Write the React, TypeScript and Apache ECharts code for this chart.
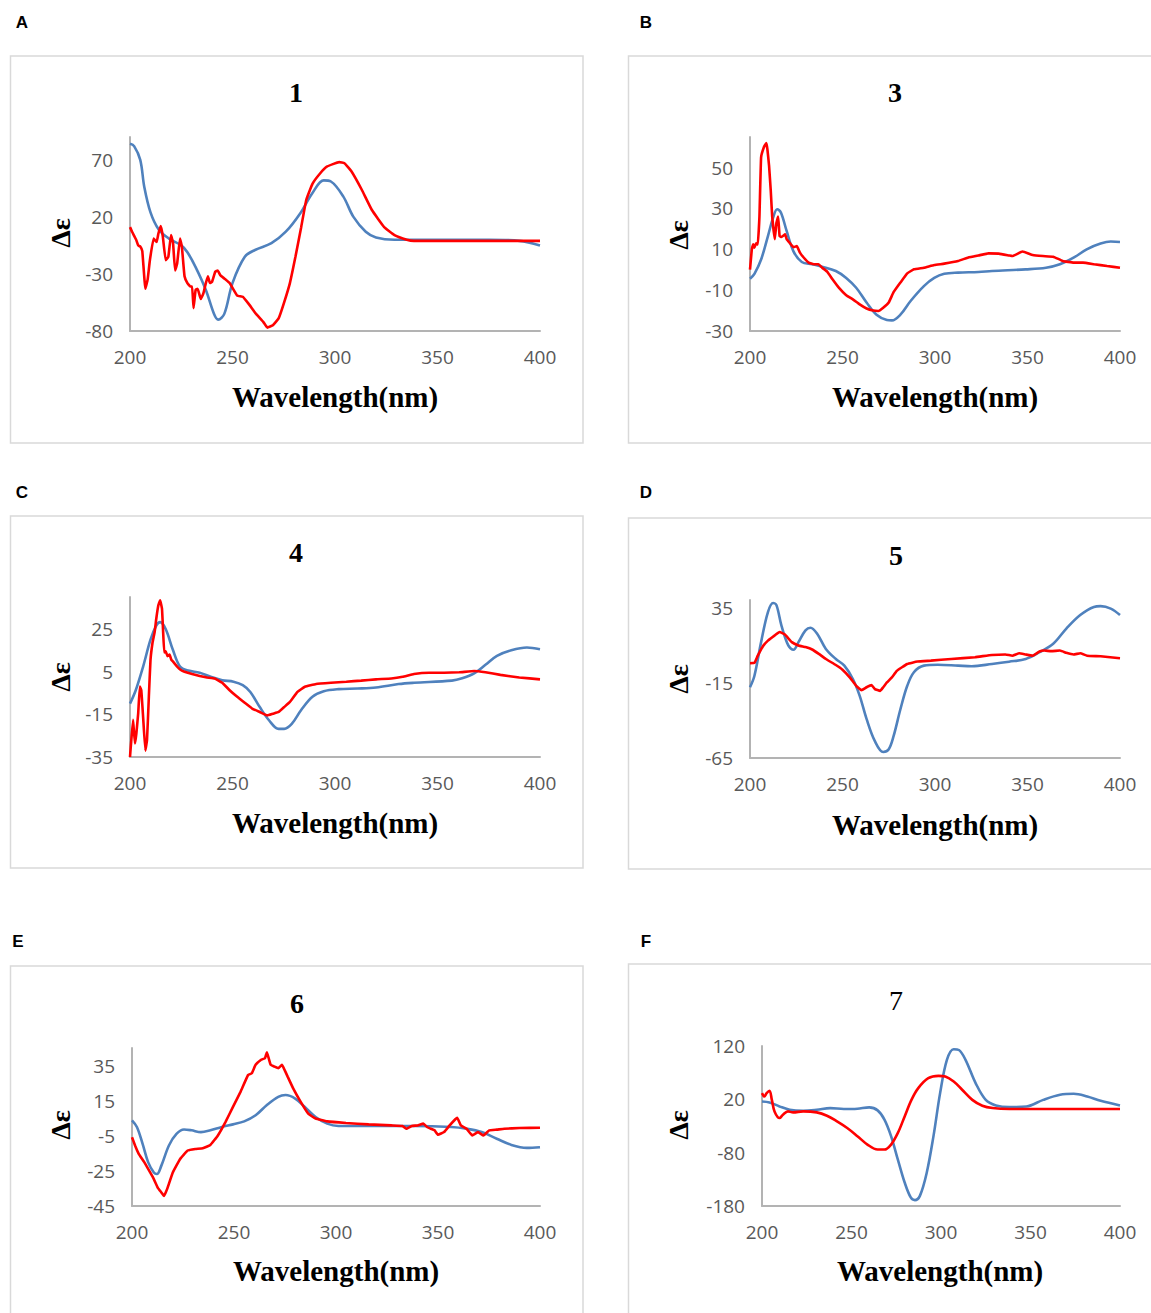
import React, { useEffect, useRef } from "react";
import * as echarts from "echarts";

type Pt = [number, number];

// ---------- data (wavelength nm, Δε) ----------
const calc1: Pt[] = [[200,84],[202,82],[205,70],[207,46],[210,24],[214,9],[219,1],[225,-5],[228,-11],[232,-24],[237,-44],[241,-65],[243,-70],[246,-65],[250,-38],[256,-15],[261,-9],[269,-3],[276,7],[283,23],[289,41],[294.5,52],[298,51],[304,38],[309,20],[315,7],[320,2],[329,0],[338,0],[375,0],[390,-1],[400,-5]];
const expt1: Pt[] = [[200,11],[201,7],[203,0],[204,-5],[205,-6],[206,-10],[207.5,-43],[208.6,-35],[209.7,-18],[211.5,1],[213,-2],[213.8,5],[215,12],[216,3],[217.4,-18],[218.7,-15],[220,4],[221,-3],[222,-27],[223,-21],[224.4,1],[225.3,-6],[226.6,-32],[228,-38],[229.4,-41],[230.3,-41],[231,-60],[232,-44],[233,-43],[234.5,-52],[235.8,-47],[237,-38],[238,-32],[239,-38],[240,-37],[241.6,-28],[242.8,-27],[244,-31],[246,-34],[248.6,-38],[252.3,-49],[255,-50],[257.8,-56],[261.5,-65],[265,-72],[267,-77],[269.7,-75],[272.5,-69],[275,-56],[278,-38],[280.7,-15],[283.5,11],[286,35],[289,49],[292.7,58],[296,64],[302,68],[304.6,67],[308,60],[313,44],[318,26],[324,11],[329,4],[335,0],[338.5,-1],[400,-1]];

const calc3: Pt[] = [[200,-4.4],[202.4,-2],[206,5],[209.7,16.5],[212.5,25.5],[214.7,29.6],[216.7,28],[219.8,19],[223.5,9],[228,3.8],[233.6,2.7],[239,1.5],[246.4,-0.6],[252,-4],[257.4,-8.8],[263,-16],[268.4,-22],[274,-24.6],[276.7,-24.8],[281.3,-22],[286.8,-15.3],[294,-8],[299.6,-4],[305,-2],[312.5,-1.4],[323.5,-1.1],[330.8,-0.6],[349,0.2],[360,1],[367.5,2.7],[374.9,5.9],[382,10],[389.5,12.8],[395,13.8],[400,13.6]];
const expt3: Pt[] = [[200,0],[201,10],[201.7,12.4],[202.4,10.8],[203.3,13],[204.2,12.4],[205.1,26],[206,55],[207.5,60],[208.8,62],[209.4,59],[210.3,51],[211.2,39],[212,26],[213.4,15],[214.3,23],[215.2,26],[216,16.5],[217,16],[219,17.3],[219.8,15],[221.6,13],[223.5,11],[225.3,11.6],[227,8.4],[229,6],[231.7,3.5],[234.5,2.7],[237,2.7],[239,1],[241.8,-1],[244.6,-4.7],[248,-8.8],[252,-12.5],[255.6,-14.5],[259.3,-17],[263,-19],[266.6,-20],[269.4,-20.2],[272,-18.6],[275,-16],[277.6,-11],[281.3,-6.3],[285,-1.8],[288.6,0.2],[294,1],[299.6,2.3],[305,3],[312.5,4.3],[318,6],[323.5,7],[329,8],[334.5,7.9],[340,7],[341.8,6.7],[347.3,8.9],[352.8,7.2],[358.3,6.7],[363.9,6.4],[369,4.3],[375,3.5],[380,3.5],[386,2.7],[393,1.8],[400,1]];

const calc4: Pt[] = [[200,-10],[202.8,-3.7],[206.4,7.4],[210,20],[212.8,26.6],[214.7,28.2],[217.4,25],[221,15],[224.4,7.4],[228.4,5.5],[234,4.5],[239.4,2.6],[245,1],[250.5,0.3],[255,-1.3],[258.7,-4.5],[263.3,-11.6],[267.9,-17.9],[272.5,-21.8],[275.2,-21.8],[278.9,-19.5],[283.5,-13],[289,-6.8],[294.5,-4.2],[301.8,-3.2],[311,-2.9],[320,-2.4],[331,-0.8],[338.5,-0.2],[357,0.8],[362,1.9],[367.9,4.2],[373.4,8.2],[379,12.4],[386,15],[393.6,16.3],[400,15.5]];
const expt4: Pt[] = [[200,-35],[200.5,-28.7],[201.5,-17.6],[202.4,-28.7],[203.1,-24],[204,-14.5],[204.8,-2],[205.5,-3.7],[206.4,-16.3],[207.5,-32],[208.3,-27],[209.2,-6.7],[210,10.5],[211,18.7],[212,23.4],[212.8,29.7],[213.8,36],[214.7,38.4],[215.6,34.5],[216.1,25],[216.7,14],[217.4,14.6],[218.3,12.3],[219.3,13],[220.2,10.5],[221,9.7],[223,7.4],[224.8,5.8],[226.6,5],[230.3,3.9],[234,3],[237.6,2.3],[241.3,1.8],[245,-0.2],[248.6,-3.7],[252.3,-6.8],[256,-9.6],[259.6,-12.3],[263.3,-13.9],[267,-15.5],[269.7,-14.7],[272.5,-13.9],[275.2,-11.6],[278,-9.2],[281.7,-4.5],[285.3,-2.1],[290.8,-0.8],[298,-0.2],[305.5,0.3],[312.8,0.8],[320,1.4],[327.5,1.8],[333,2.6],[338.5,3.9],[345.9,4.5],[353.2,4.5],[360.6,4.7],[367.9,5.3],[373.4,4.7],[380.7,3.5],[389.9,2.3],[400,1.4]];

const calc5: Pt[] = [[200,-18],[202.4,-10.3],[206,12],[209.7,32],[212.5,38],[214.3,36.6],[217,23],[220.7,9.8],[223.5,6.9],[226.2,12],[230,19.8],[232.7,21.6],[236.3,17.6],[241,7.5],[246.4,0.8],[251,-3.6],[255.6,-12.5],[259.3,-23.7],[263,-39],[267.5,-53.8],[272,-61],[274.9,-59.4],[277.6,-50.5],[281.3,-32.6],[285,-17],[288.6,-8],[294,-3.6],[301.5,-3],[312.5,-3.6],[319.8,-4],[330.8,-2.5],[340,-1],[349,0.8],[356.5,5.3],[363.9,10.9],[371,21],[378.5,30],[385.9,35.4],[389.5,35.9],[395,34.3],[400,30]];
const expt5: Pt[] = [[200,-2],[202.4,-1.8],[204.2,3],[207,9.3],[209.7,13],[213.4,16.5],[216,18.7],[218.9,17],[222.6,12],[226.2,9.8],[230,8.7],[233.6,7.1],[237.2,4.2],[241,0.8],[246.4,-3.2],[250,-6.3],[253.9,-11.4],[257.4,-17],[260.3,-19.9],[263,-18],[265.7,-16.6],[267.5,-19.2],[270.3,-20.4],[272,-18],[274,-14.8],[276.7,-11.4],[279.4,-7],[285,-2.5],[290.5,-0.9],[297.8,-0.3],[308.8,0.8],[321.6,2],[330.8,3.5],[338,3.8],[341.8,3],[345.5,4.6],[349,3.8],[352.8,3],[356.5,5.8],[359,6.4],[362.8,6],[367.5,6.4],[371,4.9],[374.9,3.8],[378.5,4.6],[382.2,3],[389.5,2.6],[400,1.3]];

const calc6: Pt[] = [[200,3.8],[202.4,0],[205.2,-9.6],[207.9,-20],[210.7,-25.9],[212.2,-26.8],[214.4,-22],[218.1,-10.5],[221.8,-3.9],[225.5,-1.4],[229.2,-1.9],[233.8,-2.9],[238.4,-1.9],[244,0],[249.5,1.5],[255,3.2],[260.6,6.7],[266,12.4],[271.7,17.2],[275.3,18.2],[280,16.2],[284.6,11.5],[290,5.7],[295.7,1.9],[301.2,0.6],[310.4,0.6],[319.7,0.6],[338,0.6],[356.6,0],[364,-1],[371.4,-2.9],[378.8,-6.7],[386,-10.2],[393.5,-11.9],[400,-11.5]];
const expt6: Pt[] = [[200,-5.8],[201.5,-10.5],[203.3,-15.3],[206,-20],[208.9,-25.9],[210.7,-29.7],[212.6,-34.5],[214.4,-37.3],[215.7,-39.3],[217.2,-35.4],[220,-25.9],[223.6,-18.2],[227.3,-13.4],[231,-12.5],[234.7,-12.1],[238.4,-10.2],[242.1,-4.8],[245.8,2.8],[249.5,11.5],[253.2,20],[256.9,29.6],[258.7,30.6],[260.6,35.4],[263.3,38.3],[265.2,39.2],[266.1,42.5],[267,39.2],[268,35.4],[269.8,34.4],[271.7,33.5],[273.5,35.4],[274.4,33.5],[276.3,28.7],[279,22],[282.7,14.3],[286.4,7.6],[290,4.8],[295.7,3.2],[304.9,2.3],[316,1.5],[327,0.9],[332.6,0.6],[334.4,-1],[337.2,0.6],[340,0.9],[342.8,1.9],[344.6,0],[346.5,-1],[348.3,-1.9],[350,-4.4],[353,-2.9],[355.7,0.9],[358.5,4.4],[359.4,5.3],[361.2,0.9],[364,-1],[366.8,-4.8],[369.6,-2.9],[372.3,-4.8],[375.1,-1.9],[378.8,-1.5],[382.5,-1],[389.9,-0.6],[400,-0.4]];

const calc7: Pt[] = [[200,16],[204.2,14.2],[209.8,6.7],[215.5,0.5],[223,-1.3],[230.6,0.5],[238.1,3.6],[245.7,1.8],[253.3,2.4],[259.9,4.9],[264.6,-0.7],[268.4,-18],[272.1,-49],[275.9,-93],[279.7,-136],[283.1,-164],[285.4,-169],[288.2,-161],[292,-118],[295.8,-49],[299.5,31.6],[303.3,94],[307.1,114],[310,112.5],[313.7,94],[319.4,50],[325,19],[330.7,8.6],[338.2,5.5],[347.7,6.7],[357.1,19],[366.5,28.5],[374.1,30.4],[381.7,25.4],[389.2,17.3],[400,8.6]];
const expt7: Pt[] = [[200,31.6],[201.3,25.4],[202.6,31.6],[204.2,36],[205.5,19],[207,-2.6],[209.8,-15],[211.7,-8.8],[214.5,-2.6],[217.4,-4.5],[223,-2.6],[230.6,-4.5],[236.3,-10.7],[241.9,-21.3],[247.6,-33.7],[253.3,-49],[258.9,-64.8],[264.6,-74.2],[268.4,-74.2],[272.1,-64.8],[275.9,-43],[279.7,-12],[283.5,19],[287.3,41],[292.9,59.6],[298.6,64],[302.4,62.7],[307.1,53.4],[311.8,38],[317.5,19],[323.1,8],[328.8,3.6],[338.2,1.8],[400,1.8]];

const xTicks = [200, 250, 300, 350, 400];
const yTicks1 = [-80, -30, 20, 70];
const yTicks3 = [-30, -10, 10, 30, 50];
const yTicks4 = [-35, -15, 5, 25];
const yTicks5 = [-65, -15, 35];
const yTicks6 = [-45, -25, -5, 15, 35];
const yTicks7 = [-180, -80, 20, 120];
const yMax = [90, 65, 40, 40, 45, 120];
const titles = ["1", "3", "4", "5", "6", "7"];
const letters = ["A", "B", "C", "D", "E", "F"];

// ---------- layout ----------
const LAYOUT = [
  { grid: [130, 137, 410, 194], frame: [10.5, 56, 572.5, 387], letter: [22, 22], title: [296, 92], yName: [60, 233], xName: [335, 397] },
  { grid: [750, 137, 370, 194], frame: [628.5, 56, 600, 387], letter: [646, 22], title: [895, 92], yName: [678, 235], xName: [935, 397] },
  { grid: [130, 597, 410, 160], frame: [10.5, 516, 572.5, 352], letter: [22, 492], title: [296, 552], yName: [60, 677], xName: [335, 823] },
  { grid: [750, 600, 370, 158], frame: [628.5, 518, 600, 351], letter: [646, 492], title: [896, 555], yName: [678, 679], xName: [935, 825] },
  { grid: [132, 1048, 408, 158], frame: [10.5, 966, 572.5, 400], letter: [18, 941], title: [297, 1003], yName: [60, 1125], xName: [336, 1271] },
  { grid: [762, 1046, 358, 160], frame: [628.5, 964, 600, 400], letter: [646, 941], title: [896, 1000], yName: [678, 1125], xName: [940, 1271] },
];

const CALC = [calc1, calc3, calc4, calc5, calc6, calc7];
const EXPT = [expt1, expt3, expt4, expt5, expt6, expt7];
const YTICKS = [yTicks1, yTicks3, yTicks4, yTicks5, yTicks6, yTicks7];

const BLUE = "#4f81bd";
const RED = "#ff0000";
const AXIS = "#b3b3b3";
const LABEL = "#595959";
const SERIF = "'Liberation Serif', 'Times New Roman', serif";
const SANS = "'Open Sans', 'Liberation Sans', sans-serif";

export default function App() {
  const ref = useRef<HTMLDivElement>(null);
  useEffect(() => {
    if (!ref.current) return;
    const chart = echarts.init(ref.current, undefined, { renderer: "svg" });
    const grids: any[] = [];
    const xAxes: any[] = [];
    const yAxes: any[] = [];
    const series: any[] = [];
    const graphics: any[] = [];
    LAYOUT.forEach((L, i) => {
      const [gl, gt, gw, gh] = L.grid;
      grids.push({ left: gl, top: gt, width: gw, height: gh, containLabel: false });
      xAxes.push({
        gridIndex: i, type: "value", min: xTicks[0], max: xTicks[xTicks.length - 1], interval: 50,
        axisLine: { show: true, onZero: false, lineStyle: { color: AXIS, width: 2 } },
        axisTick: { show: false }, splitLine: { show: false },
        axisLabel: { color: LABEL, fontSize: 19, fontFamily: SANS, margin: 16 },
      });
      const yt = YTICKS[i];
      yAxes.push({
        gridIndex: i, type: "value", min: yt[0], max: yMax[i],
        axisLine: { show: true, onZero: false, lineStyle: { color: AXIS, width: 2 } },
        axisTick: { show: false }, splitLine: { show: false },
        axisLabel: { color: LABEL, fontSize: 19, fontFamily: SANS, margin: 17, customValues: yt },
      });
      series.push({
        type: "line", xAxisIndex: i, yAxisIndex: i, data: CALC[i], showSymbol: false, smooth: 0.35,
        lineStyle: { color: BLUE, width: 2.6 }, itemStyle: { color: BLUE }, z: 2,
      });
      series.push({
        type: "line", xAxisIndex: i, yAxisIndex: i, data: EXPT[i], showSymbol: false, smooth: i === 5 ? 0.35 : 0.1,
        lineStyle: { color: RED, width: 2.6 }, itemStyle: { color: RED }, z: 3,
      });
      const [fx, fy, fw, fh] = L.frame;
      graphics.push({ type: "rect", shape: { x: fx, y: fy, width: fw, height: fh }, style: { fill: "none", stroke: "#d9d9d9", lineWidth: 1.5 }, z: -1 });
      graphics.push({ type: "text", x: L.letter[0], y: L.letter[1], style: { text: letters[i], fontSize: 17, fontWeight: "bold", fontFamily: "'Liberation Sans', Arial, sans-serif", fill: "#000", align: "center", verticalAlign: "middle" } });
      graphics.push({ type: "text", x: L.title[0], y: L.title[1], style: { text: titles[i], fontSize: 28, fontWeight: i === 5 ? "normal" : "bold", fontFamily: SERIF, fill: "#000", align: "center", verticalAlign: "middle" } });
      graphics.push({ type: "text", x: L.yName[0], y: L.yName[1], rotation: Math.PI / 2, style: { text: "Δε", fontSize: 28, fontWeight: "bold", fontFamily: SERIF, fill: "#000", align: "center", verticalAlign: "middle" } });
      graphics.push({ type: "text", x: L.xName[0], y: L.xName[1], style: { text: "Wavelength(nm)", fontSize: 29, fontWeight: "bold", fontFamily: SERIF, fill: "#000", align: "center", verticalAlign: "middle" } });
    });
    chart.setOption({
      animation: false,
      backgroundColor: "#ffffff",
      grid: grids,
      xAxis: xAxes,
      yAxis: yAxes,
      series,
      graphic: graphics,
    });
    return () => chart.dispose();
  }, []);
  return (
    <div
      ref={ref}
      style={{ position: "absolute", left: 0, top: 0, width: 1151, height: 1313, background: "#fff" }}
    />
  );
}
